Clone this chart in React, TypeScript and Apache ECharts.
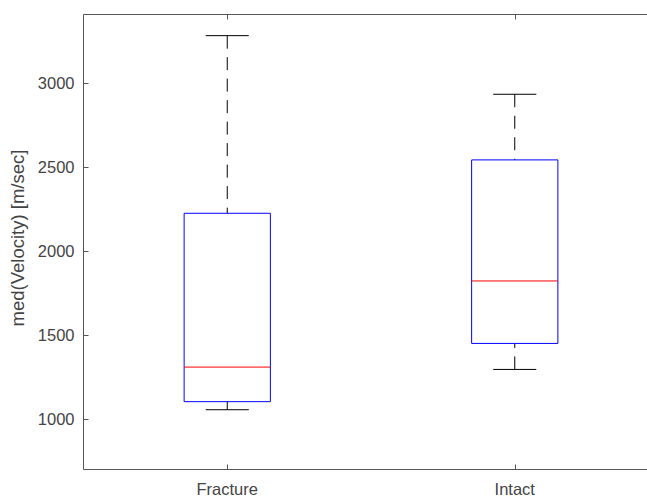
import React, { useEffect, useRef } from "react";
import * as echarts from "echarts";

// Box statistics: [position, min, q1, median, q3, max]
const categories = ["Fracture", "Intact"];
const positions = [1, 2];
const whiskerLow = [1056, 1296];
const quartile1 = [1104, 1451];
const medians = [1310, 1823];
const quartile3 = [2226, 2544];
const whiskerHigh = [3284, 2935];
const yTicks = [1000, 1500, 2000, 2500, 3000];

const FONT = "'Liberation Sans', Arial, Helvetica, sans-serif";

export default function App() {
  const ref = useRef<HTMLDivElement>(null);
  useEffect(() => {
    if (!ref.current) return;
    const chart = echarts.init(ref.current, undefined, { renderer: "svg" });
    const data = positions.map((p, i) => [
      p,
      whiskerLow[i],
      quartile1[i],
      medians[i],
      quartile3[i],
      whiskerHigh[i],
    ]);
    const halfBox = 0.15;
    const halfCap = 0.075;
    const option: any = {
      animation: false,
      backgroundColor: "#ffffff",
      grid: {
        left: 83.5,
        top: 14.5,
        width: 575,
        height: 455,
        show: true,
        borderColor: "#555555",
        borderWidth: 1,
        backgroundColor: "transparent",
        outerBoundsMode: "none",
        containLabel: false,
      },
      xAxis: [
        {
          type: "value",
          min: 0.5,
          max: 2.5,
          axisLine: { show: false },
          splitLine: { show: false },
          axisTick: {
            show: true,
            inside: true,
            length: 5,
            customValues: positions,
            lineStyle: { color: "#555555" },
          },
          axisLabel: {
            customValues: positions,
            formatter: (v: number) => categories[positions.indexOf(v)] ?? "",
            fontSize: 16.5,
            fontFamily: FONT,
            color: "#444444",
            margin: 11,
          },
        },
        {
          type: "value",
          position: "top",
          min: 0.5,
          max: 2.5,
          axisLine: { show: false },
          splitLine: { show: false },
          axisTick: {
            show: true,
            inside: true,
            length: 5,
            customValues: positions,
            lineStyle: { color: "#555555" },
          },
          axisLabel: { show: false },
        },
      ],
      yAxis: {
        type: "value",
        min: 700,
        max: 3410,
        name: "med(Velocity) [m/sec]",
        nameLocation: "middle",
        nameRotate: 90,
        nameGap: 45,
        nameTextStyle: { fontSize: 18.5, fontFamily: FONT, color: "#444444", padding: [0, 0, 0, 8] },
        axisLine: { show: false },
        splitLine: { show: false },
        axisTick: {
          show: true,
          inside: true,
          length: 5,
          customValues: yTicks,
          lineStyle: { color: "#555555" },
        },
        axisLabel: {
          customValues: yTicks,
          formatter: (v: number) => String(v),
          fontSize: 16.5,
          fontFamily: FONT,
          color: "#444444",
          margin: 9,
        },
      },
      series: [
        {
          type: "custom",
          xAxisIndex: 0,
          yAxisIndex: 0,
          encode: { x: 0, y: [1, 2, 3, 4, 5] },
          data,
          renderItem: (params: any, api: any) => {
            const x = api.value(0);
            const mn = api.value(1);
            const q1 = api.value(2);
            const md = api.value(3);
            const q3 = api.value(4);
            const mx = api.value(5);
            const c = (xx: number, yy: number) => api.coord([xx, yy]);
            const bl = c(x - halfBox, q1);
            const tr = c(x + halfBox, q3);
            const line = (a: number[], b: number[], stroke: string, dash?: number[]) => ({
              type: "line",
              shape: { x1: a[0], y1: a[1], x2: b[0], y2: b[1] },
              style: { stroke, lineWidth: 1, lineDash: dash, fill: null },
              silent: true,
            });
            return {
              type: "group",
              children: [
                line(c(x, mx), c(x, q3), "#000000", [13, 8.5]),
                line(c(x, mn), c(x, q1), "#000000", [13, 8.5]),
                line(c(x - halfCap, mx), c(x + halfCap, mx), "#000000"),
                line(c(x - halfCap, mn), c(x + halfCap, mn), "#000000"),
                {
                  type: "rect",
                  shape: {
                    x: bl[0],
                    y: tr[1],
                    width: tr[0] - bl[0],
                    height: bl[1] - tr[1],
                  },
                  style: { stroke: "#0000ff", lineWidth: 1, fill: "none" },
                },
                line(c(x - halfBox, md), c(x + halfBox, md), "#ff0000"),
              ],
            };
          },
        },
      ],
    };
    chart.setOption(option);
    return () => chart.dispose();
  }, []);
  return (
    <div
      style={{
        position: "fixed",
        left: 0,
        top: 0,
        width: 647,
        height: 498,
        overflow: "hidden",
        background: "#fff",
      }}
    >
      <div ref={ref} style={{ width: 680, height: 498 }} />
    </div>
  );
}
